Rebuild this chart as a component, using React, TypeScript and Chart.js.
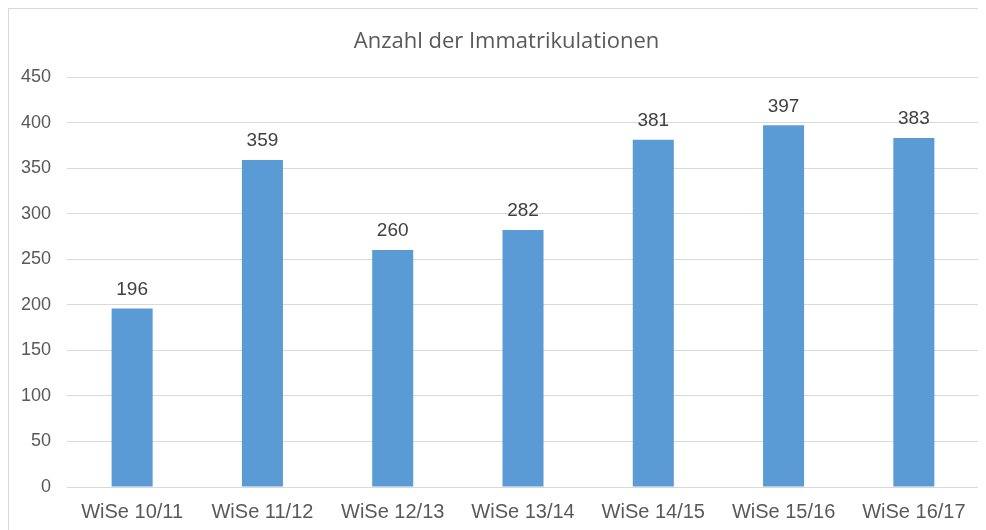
import React, { useEffect, useRef } from "react";
import { Chart, registerables } from "chart.js";

Chart.register(...registerables);

const categories = ["WiSe 10/11", "WiSe 11/12", "WiSe 12/13", "WiSe 13/14", "WiSe 14/15", "WiSe 15/16", "WiSe 16/17"];
const values = [196, 359, 260, 282, 381, 397, 383];
const title = "Anzahl der Immatrikulationen";
const yMax = 450;
const yStep = 50;

const labelPlugin = {
  id: "barLabels",
  afterDatasetsDraw(chart: any) {
    const ctx = chart.ctx;
    const meta = chart.getDatasetMeta(0);
    ctx.save();
    ctx.font = "19px 'Liberation Sans', Arial, sans-serif";
    ctx.fillStyle = "#404040";
    ctx.textAlign = "center";
    ctx.textBaseline = "middle";
    meta.data.forEach((bar: any, i: number) => {
      ctx.fillText(String(values[i]), bar.x, bar.y - 19);
    });
    // chart title, centred on the full chart frame
    ctx.font = "22px 'Open Sans', 'Noto Sans', sans-serif";
    ctx.fillStyle = "#595959";
    ctx.fillText(title, (chart.width + 18) / 2, 33);
    ctx.restore();
  },
};

export default function App() {
  const ref = useRef<HTMLCanvasElement>(null);
  useEffect(() => {
    const chart = new Chart(ref.current!, {
      type: "bar",
      data: {
        labels: categories,
        datasets: [
          {
            data: values,
            backgroundColor: "#5B9BD5",
            barPercentage: 0.315,
            categoryPercentage: 1,
          },
        ],
      },
      options: {
        animation: false,
        responsive: false,
        maintainAspectRatio: false,
        layout: { padding: { left: 0, right: 7, top: 68, bottom: 0 } },
        plugins: {
          legend: { display: false },
          tooltip: { enabled: false },
          title: { display: false },
        },
        scales: {
          x: {
            grid: { display: false, drawTicks: false },
            border: { display: true, color: "#d9d9d9" },
            ticks: {
              color: "#595959",
              font: { family: "'Liberation Sans', Arial, sans-serif", size: 20 },
              padding: 13,
              maxRotation: 0,
            },
            afterFit(scale: any) {
              scale.height = 43;
            },
          },
          y: {
            min: 0,
            max: yMax,
            grid: { color: "#d9d9d9", drawTicks: false },
            border: { display: false },
            ticks: {
              stepSize: yStep,
              color: "#595959",
              font: { family: "'Liberation Sans', Arial, sans-serif", size: 18 },
              padding: 16,
            },
            afterFit(scale: any) {
              scale.width = 58;
            },
          },
        },
      },
      plugins: [labelPlugin],
    });
    return () => chart.destroy();
  }, []);
  return (
    <div
      style={{
        width: 977,
        height: 521,
        borderTop: "1px solid #d9d9d9",
        borderLeft: "1px solid #d9d9d9",
        overflow: "hidden",
      }}
    >
      <canvas ref={ref} width={977} height={521} style={{ display: "block" }} />
    </div>
  );
}
